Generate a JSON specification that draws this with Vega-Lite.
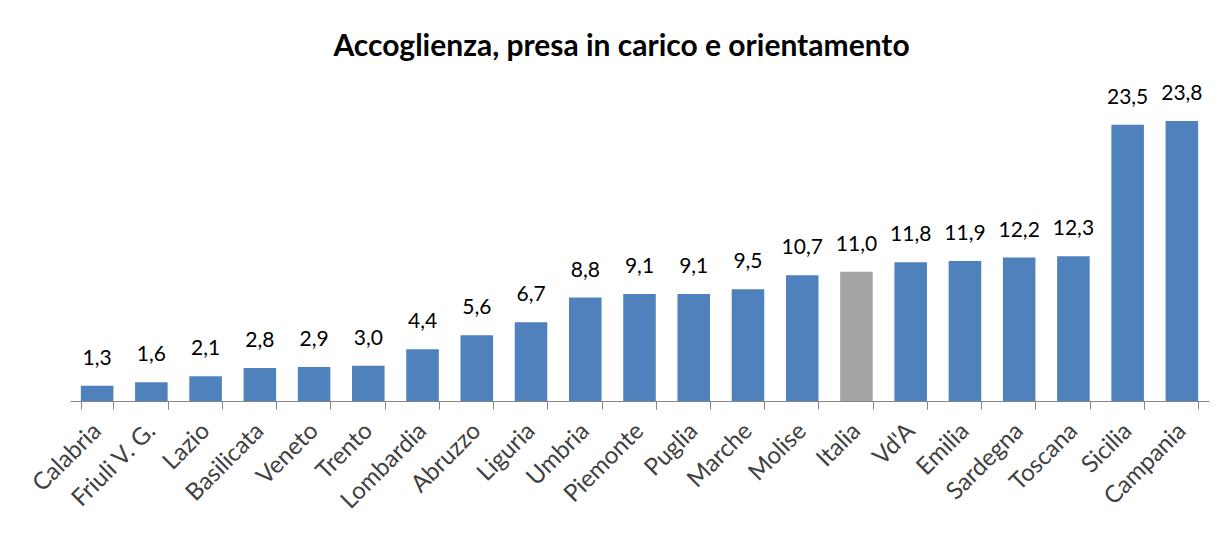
{
  "$schema": "https://vega.github.io/schema/vega-lite/v6.json",
  "width": 1139,
  "height": 294,
  "autosize": {"type": "none"},
  "padding": {"left": 70, "top": 107, "right": 19, "bottom": 137},
  "background": "white",
  "title": {
    "text": "Accoglienza, presa in carico e orientamento",
    "font": "Lato",
    "fontSize": 30,
    "fontWeight": "bold",
    "color": "#000000",
    "anchor": "middle",
    "baseline": "alphabetic",
    "offset": -3,
    "dx": -18
  },
  "data": {
    "values": [
      {"regione": "Calabria", "valore": 1.3, "tipo": "regione"},
      {"regione": "Friuli V. G.", "valore": 1.6, "tipo": "regione"},
      {"regione": "Lazio", "valore": 2.1, "tipo": "regione"},
      {"regione": "Basilicata", "valore": 2.8, "tipo": "regione"},
      {"regione": "Veneto", "valore": 2.9, "tipo": "regione"},
      {"regione": "Trento", "valore": 3.0, "tipo": "regione"},
      {"regione": "Lombardia", "valore": 4.4, "tipo": "regione"},
      {"regione": "Abruzzo", "valore": 5.6, "tipo": "regione"},
      {"regione": "Liguria", "valore": 6.7, "tipo": "regione"},
      {"regione": "Umbria", "valore": 8.8, "tipo": "regione"},
      {"regione": "Piemonte", "valore": 9.1, "tipo": "regione"},
      {"regione": "Puglia", "valore": 9.1, "tipo": "regione"},
      {"regione": "Marche", "valore": 9.5, "tipo": "regione"},
      {"regione": "Molise", "valore": 10.7, "tipo": "regione"},
      {"regione": "Italia", "valore": 11.0, "tipo": "media"},
      {"regione": "Vd'A", "valore": 11.8, "tipo": "regione"},
      {"regione": "Emilia", "valore": 11.9, "tipo": "regione"},
      {"regione": "Sardegna", "valore": 12.2, "tipo": "regione"},
      {"regione": "Toscana", "valore": 12.3, "tipo": "regione"},
      {"regione": "Sicilia", "valore": 23.5, "tipo": "regione"},
      {"regione": "Campania", "valore": 23.8, "tipo": "regione"}
    ]
  },
  "encoding": {
    "x": {
      "field": "regione",
      "type": "nominal",
      "sort": null,
      "scale": {"paddingInner": 0.4, "paddingOuter": 0.2},
      "axis": {
        "title": null,
        "labelAngle": -45,
        "labelAlign": "right",
        "labelBaseline": "middle",
        "labelFont": "Lato",
        "labelFontSize": 24,
        "labelColor": "#404040",
        "labelPadding": 18,
        "tickBand": "extent",
        "tickSize": 8,
        "tickColor": "#868686",
        "domainColor": "#868686",
        "domainWidth": 1,
        "tickWidth": 1
      }
    },
    "y": {
      "field": "valore",
      "type": "quantitative",
      "scale": {"domain": [0, 25], "nice": false},
      "axis": null
    }
  },
  "layer": [
    {
      "mark": {"type": "bar"},
      "encoding": {
        "color": {
          "field": "tipo",
          "type": "nominal",
          "scale": {"domain": ["regione", "media"], "range": ["#4F81BD", "#A5A5A5"]},
          "legend": null
        }
      }
    },
    {
      "mark": {"type": "text", "baseline": "alphabetic", "dy": -21, "font": "Lato", "fontSize": 21, "color": "#000000"},
      "encoding": {
        "text": {"field": "valore", "type": "quantitative", "format": ".1f"}
      }
    }
  ],
  "config": {
    "view": {"stroke": null},
    "locale": {
      "number": {"decimal": ",", "thousands": ".", "grouping": [3], "currency": ["€", ""]}
    }
  }
}
